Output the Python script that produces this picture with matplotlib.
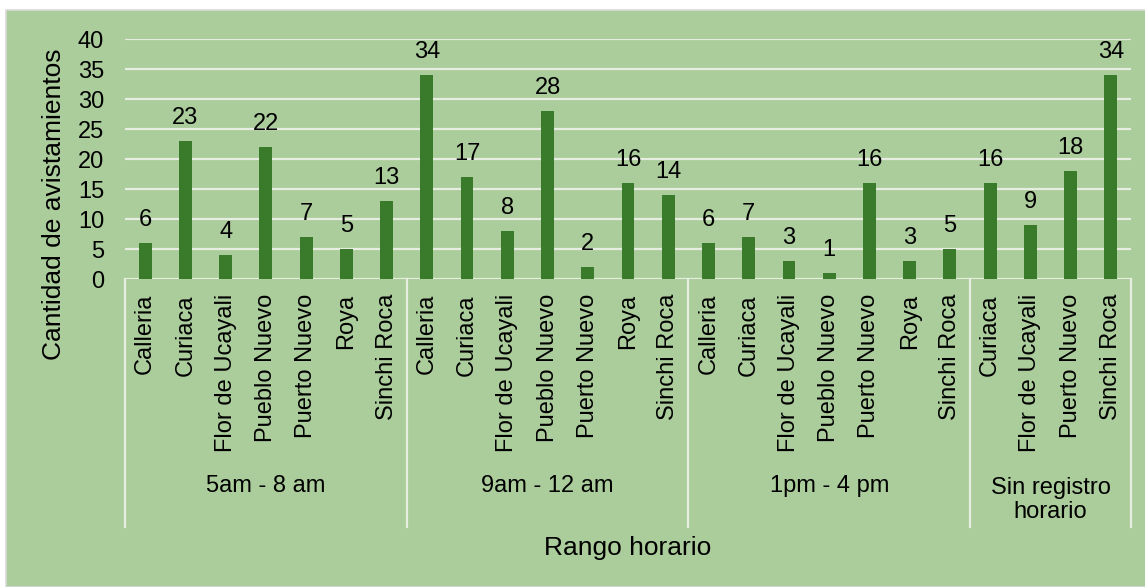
import matplotlib
matplotlib.use("Agg")
import matplotlib.pyplot as plt
from matplotlib.patches import Rectangle
from matplotlib.lines import Line2D
import matplotlib.transforms as mtransforms

plt.rcParams['font.family'] = ['Liberation Sans', 'DejaVu Sans']

groups = ["5am - 8 am", "9am - 12 am", "1pm - 4 pm", "Sin registro\nhorario"]
group_sites = [
    ["Calleria", "Curiaca", "Flor de Ucayali", "Pueblo Nuevo", "Puerto Nuevo", "Roya", "Sinchi Roca"],
    ["Calleria", "Curiaca", "Flor de Ucayali", "Pueblo Nuevo", "Puerto Nuevo", "Roya", "Sinchi Roca"],
    ["Calleria", "Curiaca", "Flor de Ucayali", "Pueblo Nuevo", "Puerto Nuevo", "Roya", "Sinchi Roca"],
    ["Curiaca", "Flor de Ucayali", "Puerto Nuevo", "Sinchi Roca"],
]
group_values = [
    [6, 23, 4, 22, 7, 5, 13],
    [34, 17, 8, 28, 2, 16, 14],
    [6, 7, 3, 1, 16, 3, 5],
    [16, 9, 18, 34],
]
y_ticks = [0, 5, 10, 15, 20, 25, 30, 35, 40]
y_title = "Cantidad de avistamientos"
x_title = "Rango horario"

BG = '#abcd9b'
BAR = '#3a7a2b'
GRID = '#e8ede2'
FS = 17
FT = 19

W, H = 1145, 587
fig = plt.figure(figsize=(W / 100, H / 100), dpi=100, facecolor='white')

# chart area
fig.patches.append(Rectangle((6 / W, 0), 1 - 6 / W + 0.01, 1 - 10 / H, transform=fig.transFigure,
                             facecolor=BG, edgecolor='#d9d9d9', linewidth=1.2, zorder=-5))

left, right, top, bottom = 125, 1131, 39, 279
ax = fig.add_axes([left / W, 1 - bottom / H, (right - left) / W, (bottom - top) / H])
ax.set_zorder(2)
ax.set_facecolor(BG)
ax.patch.set_alpha(0)

sites = [s for g in group_sites for s in g]
values = [v for g in group_values for v in g]
x = list(range(len(values)))

ax.bar(x, values, width=0.32, color=BAR, zorder=3)
for xi, v in zip(x, values):
    ax.annotate(str(v), (xi, v), xytext=(0, 12.5), textcoords='offset points',
                ha='center', va='baseline', fontsize=FS, color='black', zorder=4)

ax.set_xlim(-0.5, len(values) - 0.5)
ax.set_ylim(0, 40)
ax.set_yticks(y_ticks)
ax.set_yticklabels([str(t) for t in y_ticks], fontsize=FS)
ax.tick_params(axis='y', length=0, pad=15)
ax.set_xticks([])
for s in ax.spines.values():
    s.set_visible(False)
ax.yaxis.grid(True, color=GRID, linewidth=1.6, zorder=1)
ax.set_axisbelow(True)

ph = bottom - top
trans = mtransforms.blended_transform_factory(ax.transData, ax.transAxes)

# category labels
for xi, s in zip(x, sites):
    ax.text(xi, -15 / ph, s, transform=trans, rotation=90, ha='center', va='top',
            fontsize=FS, color='black')

# group separators & labels
bounds = [-0.5]
for g in group_values:
    bounds.append(bounds[-1] + len(g))
for b in bounds:
    ax.add_line(Line2D([b, b], [0, -(527 - bottom) / ph], transform=trans, color=GRID,
                       linewidth=1.6, clip_on=False))
for i, gname in enumerate(groups):
    cx = (bounds[i] + bounds[i + 1]) / 2
    last_baseline = 492 + 26 * gname.count('\n')
    ax.text(cx, -(last_baseline - bottom) / ph, gname, transform=trans, ha='center', va='baseline',
            fontsize=FS, linespacing=1.1, color='black')

fig.text((left + right) / 2 / W, 1 - 555 / H, x_title, ha='center', va='baseline', fontsize=FT)
fig.text(54 / W, 1 - 204 / H, y_title, ha='center', va='center', rotation=90, fontsize=FT)

fig.savefig('out.png', dpi=100, facecolor='white')
